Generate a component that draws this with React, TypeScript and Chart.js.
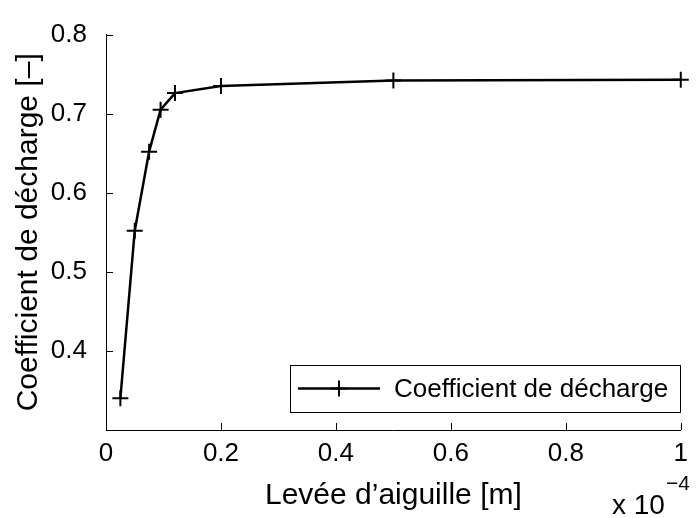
import React, { useEffect, useRef } from "react";
import { Chart, registerables } from "chart.js";

Chart.register(...registerables);

// ---- data (x in units of 1e-4 m) ----
const xValues = [0.025, 0.05, 0.075, 0.095, 0.12, 0.2, 0.5, 1.0];
const yValues = [0.34, 0.552, 0.652, 0.705, 0.726, 0.735, 0.742, 0.743];
const xTicks = [0, 0.2, 0.4, 0.6, 0.8, 1];
const yTicks = [0.4, 0.5, 0.6, 0.7, 0.8];
const seriesLabel = "Coefficient de décharge";
const xTitle = "Levée d’aiguille [m]";
const yTitle = "Coefficient de décharge [–]";
const xMultiplier = "x 10";
const xExponent = "−4";

const FONT = "'Liberation Sans', Arial, Helvetica, sans-serif";

const decorPlugin = {
  id: "matlabDecor",
  afterDatasetsDraw(chart: any) {
    const { ctx, chartArea, scales } = chart;
    ctx.save();
    // inward tick marks
    ctx.strokeStyle = "#000";
    ctx.lineWidth = 1;
    ctx.beginPath();
    xTicks.forEach((v) => {
      const px = Math.round(scales.x.getPixelForValue(v)) + 0.5;
      ctx.moveTo(px, chartArea.bottom);
      ctx.lineTo(px, chartArea.bottom - 7);
    });
    yTicks.forEach((v) => {
      const py = Math.round(scales.y.getPixelForValue(v)) + 0.5;
      ctx.moveTo(chartArea.left, py);
      ctx.lineTo(chartArea.left + 7, py);
    });
    ctx.stroke();

    // exponent label
    ctx.fillStyle = "#000";
    ctx.textBaseline = "alphabetic";
    ctx.textAlign = "left";
    ctx.font = `28px ${FONT}`;
    const bx = 612;
    ctx.fillText(xMultiplier, bx, 514);
    const w = ctx.measureText(xMultiplier).width;
    ctx.font = `21px ${FONT}`;
    ctx.fillText(xExponent, bx + w + 1, 490);

    // legend box
    const lx0 = 290, lx1 = 680, ly0 = 365, ly1 = 412;
    ctx.fillStyle = "#fff";
    ctx.fillRect(lx0, ly0, lx1 - lx0, ly1 - ly0);
    ctx.strokeStyle = "#000";
    ctx.lineWidth = 1;
    ctx.strokeRect(lx0 + 0.5, ly0 + 0.5, lx1 - lx0, ly1 - ly0);
    const cy = (ly0 + ly1) / 2;
    ctx.lineWidth = 2.5;
    ctx.beginPath();
    ctx.moveTo(298, cy);
    ctx.lineTo(380, cy);
    ctx.stroke();
    ctx.lineWidth = 2;
    ctx.beginPath();
    ctx.moveTo(339 - 8, cy);
    ctx.lineTo(339 + 8, cy);
    ctx.moveTo(339, cy - 8);
    ctx.lineTo(339, cy + 8);
    ctx.stroke();
    ctx.fillStyle = "#000";
    ctx.font = `26px ${FONT}`;
    ctx.textBaseline = "middle";
    ctx.fillText(seriesLabel, 394, cy + 1);
    ctx.restore();
  },
};

export default function App() {
  const ref = useRef<HTMLCanvasElement | null>(null);
  useEffect(() => {
    document.body.style.margin = "0";
    const canvas = ref.current;
    if (!canvas) return;
    const chart = new Chart(canvas, {
      type: "line",
      data: {
        datasets: [
          {
            label: seriesLabel,
            data: xValues.map((x, i) => ({ x, y: yValues[i] })),
            borderColor: "#000",
            borderWidth: 2.5,
            tension: 0,
            fill: false,
            pointStyle: "cross",
            pointRadius: 8,
            pointBorderWidth: 2,
            pointBorderColor: "#000",
            pointBackgroundColor: "#000",
            clip: false,
          } as any,
        ],
      },
      options: {
        responsive: false,
        animation: false,
        events: [],
        layout: { padding: { top: 23, right: 4, left: 0, bottom: 0 } },
        plugins: { legend: { display: false }, tooltip: { enabled: false } },
        scales: {
          x: {
            type: "linear",
            min: 0,
            max: 1,
            grid: { drawOnChartArea: false, drawTicks: false },
            border: { display: true, color: "#000", width: 1 },
            afterBuildTicks: (s: any) => {
              s.ticks = xTicks.map((v) => ({ value: v }));
            },
            afterFit: (s: any) => {
              s.height = 88;
            },
            ticks: {
              color: "#000",
              font: { family: FONT, size: 26 },
              padding: 8,
              maxRotation: 0,
              autoSkip: false,
              callback: (v: any) => String(Number(Number(v).toFixed(2))),
            },
            title: {
              display: true,
              text: xTitle,
              color: "#000",
              font: { family: FONT, size: 30 },
              padding: { top: 0, bottom: 4 },
            },
          },
          y: {
            type: "linear",
            min: 0.3,
            max: 0.8,
            grid: { drawOnChartArea: false, drawTicks: false },
            border: { display: true, color: "#000", width: 1 },
            afterBuildTicks: (s: any) => {
              s.ticks = yTicks.map((v) => ({ value: v }));
            },
            afterFit: (s: any) => {
              s.width = 106;
            },
            ticks: {
              color: "#000",
              font: { family: FONT, size: 26 },
              padding: 19,
              autoSkip: false,
              callback: (v: any) => Number(v).toFixed(1),
            },
            title: {
              display: true,
              text: yTitle,
              color: "#000",
              font: { family: FONT, size: 30 },
              padding: { top: 11, bottom: 0 },
            },
          },
        },
      },
      plugins: [decorPlugin],
    });
    return () => chart.destroy();
  }, []);
  return <canvas ref={ref} width={696} height={518} style={{ display: "block" }} />;
}
